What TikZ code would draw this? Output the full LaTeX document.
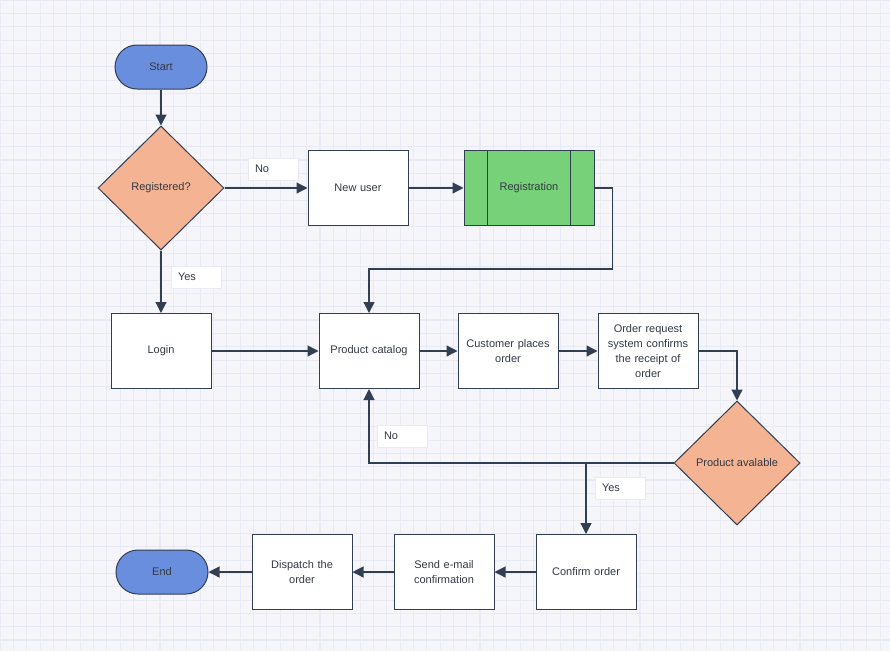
\documentclass[tikz,border=0pt]{standalone}
\usepackage{fontspec}
\setmainfont{Liberation Sans}
\usetikzlibrary{shapes.geometric,arrows.meta}
\definecolor{edge}{HTML}{323E52}
\definecolor{ink}{HTML}{333A45}
\definecolor{pill}{HTML}{6A8EDE}
\definecolor{salmon}{HTML}{F4B392}
\definecolor{leaf}{HTML}{76D178}
\definecolor{paper}{HTML}{F6F6FA}
\definecolor{gridc}{HTML}{E8EAF4}
\tikzset{
  lbl/.style={text=ink,font=\fontsize{11pt}{15pt}\selectfont},
  box/.style={lbl,draw=edge,line width=1pt,fill=white,minimum width=100pt,minimum height=75pt,align=center,text width=92pt},
  term/.style={lbl,draw=edge,line width=1pt,fill=pill,rounded corners=22pt,minimum width=92pt,minimum height=44pt},
  choice/.style={lbl,draw=edge,line width=1pt,fill=salmon,diamond,minimum width=126pt,minimum height=124pt,inner sep=0pt},
  tag/.style={lbl,draw=gridc,fill=white,minimum width=50pt,minimum height=22pt,inner sep=0pt,text width=36pt},
  flow/.style={draw=edge,line width=1.2pt,-{Triangle[length=11pt,width=11pt]}}
}
\begin{document}
\begin{tikzpicture}[x=1pt,y=-1pt]
    \fill [paper] (0,0) rectangle (890,651);
    \useasboundingbox (0,0) rectangle (890,651);
    \foreach \i in {0,...,67} {
        \draw [gridc,line width=0.5pt] (\i*13.33,0) -- (\i*13.33,651);
    }
    \foreach \i in {0,...,49} {
        \draw [gridc,line width=0.5pt] (0,\i*13.33) -- (890,\i*13.33);
    }
    \foreach \i in {0,...,17} {
        \draw [gridc,line width=1.2pt] (\i*53.33,0) -- (\i*53.33,651);
    }
    \foreach \i in {0,...,12} {
        \draw [gridc,line width=1.2pt] (0,\i*53.33) -- (890,\i*53.33);
    }

    \path (161, 67) node [term] (start) {Start};
    \path (161, 188) node [choice] (reg) {Registered?};
    \path (358, 188) node [box] (new) {New user};
    \path (529, 188) node [box,fill=leaf,minimum width=130pt] (regn) {Registration};
    \draw [edge,line width=1pt] ([xshift=24pt]regn.north west) -- ([xshift=24pt]regn.south west);
    \draw [edge,line width=1pt] ([xshift=-24pt]regn.north east) -- ([xshift=-24pt]regn.south east);
    \path (161, 351) node [box] (login) {Login};
    \path (369, 351) node [box] (cat) {Product catalog};
    \path (508, 351) node [box] (cust) {Customer places\\order};
    \path (648, 351) node [box] (ord) {Order request\\system confirms\\the receipt of\\order};
    \path (737, 463) node [choice] (avail) {Product avalable};
    \path (586, 572) node [box] (conf) {Confirm order};
    \path (444, 572) node [box] (mail) {Send e-mail\\confirmation};
    \path (302, 572) node [box] (disp) {Dispatch the\\order};
    \path (162, 572) node [term] (end) {End};

    \path (273, 169) node [tag] (no1) {No};
    \path (196, 277) node [tag] (yes1) {Yes};
    \path (402, 436) node [tag] (no2) {No};
    \path (620, 488) node [tag] (yes2) {Yes};

    \coordinate (bend) at (586, 463);
    \draw [flow] (start) -- (reg);
    \draw [flow] (reg.east) -- (new);
    \draw [flow] (new) -- (regn);
    \draw [flow] (regn.east) -- ++(18,0) |- (369,269) -- (cat.north);
    \draw [flow] (reg.south) -- (login);
    \draw [flow] (login) -- (cat);
    \draw [flow] (cat) -- (cust);
    \draw [flow] (cust) -- (ord);
    \draw [flow] (ord.east) -| (avail.north);
    \draw [flow] (avail.west) -| (cat.south);
    \draw [flow] (bend) -- (conf.north);
    \draw [flow] (conf) -- (mail);
    \draw [flow] (mail) -- (disp);
    \draw [flow] (disp) -- (end);
\end{tikzpicture}
\end{document}
